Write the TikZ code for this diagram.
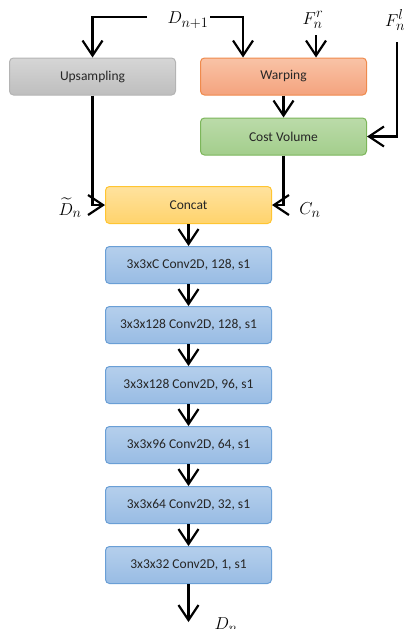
\documentclass[tikz,border=0pt]{standalone}
\usepackage{amssymb, amsmath}
\usepackage{fontspec}
\newfontfamily\boxfont{Carlito}
\usetikzlibrary{arrows.meta}

\definecolor{grayTop}{HTML}{D6D6D6}
\definecolor{grayBot}{HTML}{BEBEBE}
\definecolor{grayLine}{HTML}{B4B4B4}
\definecolor{orangeTop}{HTML}{F9C3A6}
\definecolor{orangeBot}{HTML}{F4A37E}
\definecolor{orangeLine}{HTML}{EF8A4C}
\definecolor{greenTop}{HTML}{BBDBA9}
\definecolor{greenBot}{HTML}{A3CE8C}
\definecolor{greenLine}{HTML}{7CB65A}
\definecolor{yellowTop}{HTML}{FFE29E}
\definecolor{yellowBot}{HTML}{FFD36C}
\definecolor{yellowLine}{HTML}{FFC532}
\definecolor{blueTop}{HTML}{B5CFEC}
\definecolor{blueBot}{HTML}{98BCE4}
\definecolor{blueLine}{HTML}{6A9FD6}

\tikzset{
  layer/.style={rounded corners=4pt, line width=1pt, minimum width=166pt,
    minimum height=37pt, inner sep=0pt, text=black!85,
    font=\boxfont\fontsize{13.5}{15}\selectfont},
  graylayer/.style={layer, draw=grayLine, top color=grayTop, bottom color=grayBot},
  orangelayer/.style={layer, draw=orangeLine, top color=orangeTop, bottom color=orangeBot},
  greenlayer/.style={layer, draw=greenLine, top color=greenTop, bottom color=greenBot},
  yellowlayer/.style={layer, draw=yellowLine, top color=yellowTop, bottom color=yellowBot},
  bluelayer/.style={layer, draw=blueLine, top color=blueTop, bottom color=blueBot},
  flow/.style={line width=2.2pt, -{Straight Barb[length=15pt, width=20pt, line width=2.2pt]}},
  lbl/.style={inner sep=0pt, font=\fontsize{19}{22}\selectfont}
}

\begin{document}
\begin{tikzpicture}[x=1pt, y=-1pt]
    \useasboundingbox (0,0) rectangle (407,629);

    % Top row
    \node[graylayer] (up) at (92.5,76.5) {Upsampling};
    \node[orangelayer] (warp) at (283.5,76.5) {Warping};
    \node[greenlayer] (cost) at (283.5,136.5) {Cost Volume};
    \node[yellowlayer] (concat) at (188.5,205) {Concat};

    % Conv stack
    \foreach \i/\txt in {1/3x3xC Conv2D\mbox{,} 128\mbox{,} s1,
                         2/3x3x128 Conv2D\mbox{,} 128\mbox{,} s1,
                         3/3x3x128 Conv2D\mbox{,} 96\mbox{,} s1,
                         4/3x3x96 Conv2D\mbox{,} 64\mbox{,} s1,
                         5/3x3x64 Conv2D\mbox{,} 32\mbox{,} s1,
                         6/3x3x32 Conv2D\mbox{,} 1\mbox{,} s1}
        \node[bluelayer] (conv\i) at (188.5,{205+60*\i}) {\txt};

    % Inputs
    \node[lbl] (dprev) at (188,20) {$D_{n+1}$};
    \node[lbl] (fr) at (313,20) {$F_n^r$};
    \node[lbl] (fl) at (395,20) {$F_n^l$};
    \coordinate (dleft) at (147,17);
    \coordinate (dright) at (210,17);
    \coordinate (frin) at (316,35);
    \coordinate (flin) at (397,42);

    \draw[flow] (dleft) -| (up.north);
    \draw[flow] (dright) -| ([xshift=43pt]warp.north west);
    \draw[flow] (frin) -- ([xshift=116pt]warp.north west);
    \draw[flow] (flin) |- (cost.east);
    \draw[flow] (warp) -- (cost);

    % Into concat
    \draw[flow] (up.south) |- (concat.west);
    \draw[flow] (cost.south) |- (concat.east);
    \node[lbl] (dtilde) at (70,208) {$\widetilde{D}_n$};
    \node[lbl] (cn) at (310,210) {$C_n$};

    % Down the stack
    \draw[flow] (concat) -- (conv1);
    \foreach \i [evaluate=\i as \j using int(\i+1)] in {1,...,5}
        \draw[flow] (conv\i) -- (conv\j);

    % Output
    \coordinate (out) at (188.5,622);
    \draw[flow] (conv6) -- (out);
    \node[lbl] (dn) at (226,625) {$D_n$};
\end{tikzpicture}
\end{document}
